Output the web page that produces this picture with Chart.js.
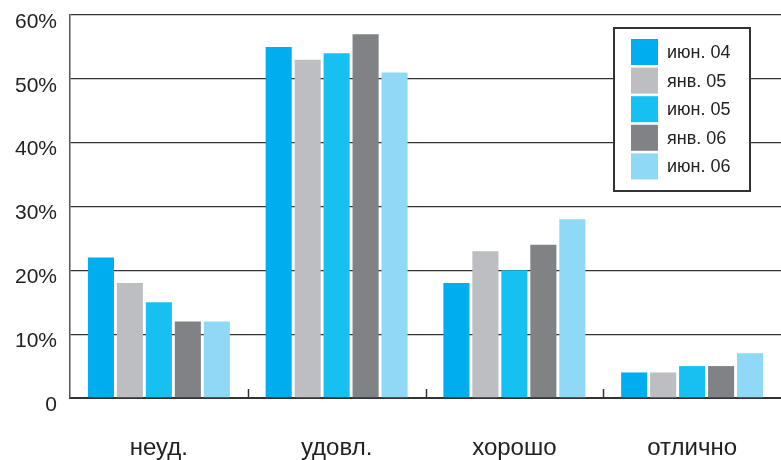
<!DOCTYPE html>
<html>
<head>
<meta charset="utf-8">
<script src="https://cdn.jsdelivr.net/npm/chart.js@4"></script>
<style>
  html, body { margin: 0; padding: 0; background: #fff; }
  #wrap { width: 781px; height: 460px; position: relative; }
</style>
</head>
<body>
<div id="wrap"><canvas id="barChart"></canvas></div>
<script>
const categories = ['неуд.', 'удовл.', 'хорошо', 'отлично'];
const seriesNames = ['июн. 04', 'янв. 05', 'июн. 05', 'янв. 06', 'июн. 06'];
const seriesColors = ['#00adee', '#bcbec1', '#16c1f2', '#808285', '#8fd8f6'];
const jun04 = [22, 55, 18, 4];
const jan05 = [18, 53, 23, 4];
const jun05 = [15, 54, 20, 5];
const jan06 = [12, 57, 24, 5];
const jun06 = [12, 51, 28, 7];
const seriesValues = [jun04, jan05, jun05, jan06, jun06];

const FONT = 'Liberation Sans, Arial, sans-serif';

// small inward tick marks between categories
const innerTicks = {
  id: 'innerTicks',
  afterDatasetsDraw(chart) {
    const x = chart.scales.x;
    const bottom = chart.chartArea.bottom;
    const c = chart.ctx;
    c.save();
    c.strokeStyle = '#333';
    c.lineWidth = 1.5;
    for (let i = 1; i < categories.length; i++) {
      const px = Math.round((x.getPixelForValue(i - 1) + x.getPixelForValue(i)) / 2) + 0.5;
      c.beginPath();
      c.moveTo(px, bottom);
      c.lineTo(px, bottom - 9);
      c.stroke();
    }
    c.restore();
  }
};

// boxed legend in the top right corner
const boxLegend = {
  id: 'boxLegend',
  afterDraw(chart) {
    const c = chart.ctx;
    const bx = 614, by = 28, bw = 136, bh = 163;
    c.save();
    c.fillStyle = '#fff';
    c.fillRect(bx, by, bw, bh);
    c.strokeStyle = '#333';
    c.lineWidth = 2;
    c.strokeRect(bx, by, bw, bh);
    c.font = '18px ' + FONT;
    c.textBaseline = 'middle';
    chart.data.datasets.forEach((ds, i) => {
      const y = 39 + i * 28.6;
      c.fillStyle = ds.backgroundColor;
      c.fillRect(631, y, 27, 26);
      c.fillStyle = '#222';
      c.fillText(ds.label, 667, y + 14);
    });
    c.restore();
  }
};

new Chart(document.getElementById('barChart'), {
  type: 'bar',
  data: {
    labels: categories,
    datasets: seriesNames.map((name, i) => ({
      label: name,
      data: seriesValues[i],
      backgroundColor: seriesColors[i]
    }))
  },
  options: {
    responsive: true,
    maintainAspectRatio: false,
    animation: false,
    categoryPercentage: 0.815,
    barPercentage: 0.9,
    layout: { padding: { top: 15, right: 0, left: 0, bottom: 0 } },
    plugins: {
      legend: { display: false },
      tooltip: { enabled: false }
    },
    scales: {
      x: {
        grid: { display: false, drawTicks: false },
        border: { display: true, color: '#333', width: 2 },
        ticks: { color: '#222', font: { family: FONT, size: 24 }, padding: 36 },
        afterFit(scale) { scale.height = 62; }
      },
      y: {
        min: 0,
        max: 60,
        grid: { color: '#333', lineWidth: 1.3, drawTicks: false },
        border: { display: true, color: '#555', width: 1.5 },
        ticks: {
          stepSize: 10,
          color: '#222',
          font: { family: FONT, size: 21 },
          padding: 13,
          labelOffset: 7,
          callback: v => v === 0 ? '0' : v + '%'
        },
        afterFit(scale) {
          scale.width = 70;
          scale.paddingTop = 0;
          scale.paddingBottom = 0;
        }
      }
    }
  },
  plugins: [innerTicks, boxLegend]
});
</script>
</body>
</html>
